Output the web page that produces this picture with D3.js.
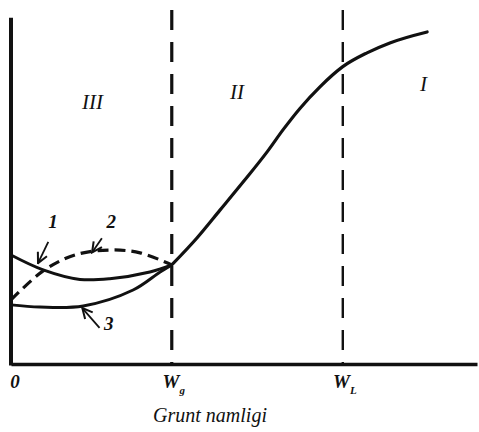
<!DOCTYPE html>
<html>
<head>
<meta charset="utf-8">
<script src="https://cdn.jsdelivr.net/npm/d3@7"></script>
<style>
  html, body { margin: 0; padding: 0; background: #fff; }
  svg { display: block; }
</style>
</head>
<body>
<svg id="chart" width="479" height="432"></svg>
<script>
// ---- data (abstract units: x = soil moisture, y = property) ----
const xTickLabels = ["0", "W", "W"];
const xTickSubs = ["", "g", "L"];
const xTickValues = [0, 34.5, 71.2];
const regionLabels = ["III", "II", "I"];
const regionX = [17.5, 48.5, 88.5];
const regionY = [72, 75, 77];
const xAxisTitle = "Grunt namligi";

const mainX = [34.5, 39.9, 44.8, 49.8, 55.0, 58.4, 62.0, 66.3, 71.2, 76.4, 81.3, 89.3];
const mainY = [28.0, 35.6, 43.4, 51.4, 60.0, 66.2, 72.2, 78.3, 84.0, 87.9, 90.7, 93.8];

const c1X = [0, 6.9, 14.8, 21.2, 29.8, 34.5];
const c1Y = [30.8, 26.6, 23.9, 24.1, 26.0, 28.0];

const c2X = [0, 6.9, 13.7, 21.2, 27.7, 34.5];
const c2Y = [18.1, 26.3, 30.8, 32.2, 31.4, 28.0];

const c3X = [0, 6.2, 15.5, 26.2, 32.0, 34.5];
const c3Y = [16.7, 16.1, 16.4, 20.9, 26.0, 28.0];

const curveLabels = ["1", "2", "3"];
const labelX = [9.0, 21.5, 21.0];
const labelY = [38.5, 38.5, 9.5];
const arrowFromX = [8.0, 19.5, 19.0];
const arrowFromY = [34.5, 35.5, 10.2];
const arrowToX = [5.8, 17.4, 15.3];
const arrowToY = [28.5, 31.5, 15.8];

// ---- scales ----
const svg = d3.select("#chart");
const x = d3.scaleLinear().domain([0, 100]).range([11, 477]);
const y = d3.scaleLinear().domain([0, 100]).range([364, 10]);

const serif = "'Liberation Serif', 'DejaVu Serif', serif";

// vertical dashed boundaries
svg.selectAll("line.bound")
  .data(xTickValues.slice(1))
  .join("line")
  .attr("x1", d => x(d)).attr("x2", d => x(d))
  .attr("y1", y(100)).attr("y2", y(0))
  .attr("stroke", "#111")
  .attr("stroke-width", (d, i) => i === 0 ? 3.2 : 2.4)
  .attr("stroke-dasharray", "20 12");

// axes
const xAxis = d3.axisBottom(x).tickValues([]).tickSizeOuter(0);
svg.append("g").attr("transform", `translate(0,${y(0)})`).call(xAxis)
  .call(g => g.select(".domain").attr("stroke", "#111").attr("stroke-width", 3.5));
const yAxis = d3.axisLeft(y).tickValues([]).tickSizeOuter(0);
svg.append("g").attr("transform", `translate(${x(0)},0)`).call(yAxis)
  .call(g => g.select(".domain").attr("stroke", "#111").attr("stroke-width", 4)
    .attr("d", `M0,${y(97.8)}V${y(0)+1.5}`));

// curves
const smooth = d3.line().x(d => x(d[0])).y(d => y(d[1])).curve(d3.curveMonotoneX);
const curve = d3.line().x(d => x(d[0])).y(d => y(d[1])).curve(d3.curveCatmullRom.alpha(0.5));
const zip = (a, b) => a.map((v, i) => [v, b[i]]);

svg.append("path").datum(zip(mainX, mainY)).attr("d", smooth)
  .attr("fill", "none").attr("stroke", "#111").attr("stroke-width", 3.2).attr("stroke-linecap", "round");
svg.append("path").datum(zip(c1X, c1Y)).attr("d", curve)
  .attr("fill", "none").attr("stroke", "#111").attr("stroke-width", 3);
svg.append("path").datum(zip(c3X, c3Y)).attr("d", curve)
  .attr("fill", "none").attr("stroke", "#111").attr("stroke-width", 3);
svg.append("path").datum(zip(c2X, c2Y)).attr("d", curve)
  .attr("fill", "none").attr("stroke", "#111").attr("stroke-width", 3.2)
  .attr("stroke-dasharray", "11 6");

// arrows
svg.append("defs").append("marker")
  .attr("id", "ah").attr("viewBox", "0 0 10 10").attr("refX", 9).attr("refY", 5)
  .attr("markerWidth", 7).attr("markerHeight", 7).attr("orient", "auto")
  .append("path").attr("d", "M1,1 L9,5 L1,9").attr("fill", "none")
  .attr("stroke", "#111").attr("stroke-width", 1.6);

svg.selectAll("line.arrow")
  .data(curveLabels)
  .join("line")
  .attr("x1", (d, i) => x(arrowFromX[i])).attr("y1", (d, i) => y(arrowFromY[i]))
  .attr("x2", (d, i) => x(arrowToX[i])).attr("y2", (d, i) => y(arrowToY[i]))
  .attr("stroke", "#111").attr("stroke-width", 1.8)
  .attr("marker-end", "url(#ah)");

svg.selectAll("text.clabel")
  .data(curveLabels)
  .join("text")
  .attr("x", (d, i) => x(labelX[i])).attr("y", (d, i) => y(labelY[i]))
  .attr("text-anchor", "middle")
  .attr("font-family", serif).attr("font-style", "italic").attr("font-weight", "bold")
  .attr("font-size", 19).attr("fill", "#111")
  .text(d => d);

// region labels
svg.selectAll("text.region")
  .data(regionLabels)
  .join("text")
  .attr("x", (d, i) => x(regionX[i])).attr("y", (d, i) => y(regionY[i]))
  .attr("text-anchor", "middle")
  .attr("font-family", serif).attr("font-style", "italic")
  .attr("font-size", 21).attr("fill", "#111")
  .text(d => d);

// tick labels
const tl = svg.selectAll("text.tick")
  .data(xTickLabels)
  .join("text")
  .attr("x", (d, i) => i === 0 ? x(xTickValues[i]) + 4 : x(xTickValues[i]) + 2)
  .attr("y", 388)
  .attr("text-anchor", "middle")
  .attr("font-family", serif).attr("font-style", "italic").attr("font-weight", "bold")
  .attr("font-size", 19).attr("fill", "#111");
tl.append("tspan").text(d => d);
tl.append("tspan").attr("dy", 6).attr("font-size", 11)
  .text((d, i) => xTickSubs[i]);

svg.append("text")
  .attr("x", 210).attr("y", 422)
  .attr("text-anchor", "middle")
  .attr("font-family", serif).attr("font-style", "italic")
  .attr("font-size", 20).attr("fill", "#111")
  .text(xAxisTitle);
</script>
</body>
</html>
